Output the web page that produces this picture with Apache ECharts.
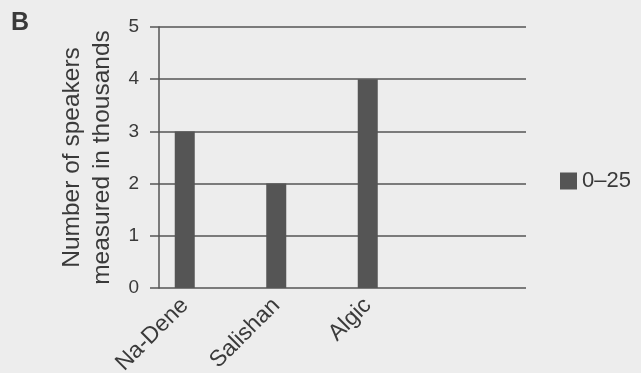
<!DOCTYPE html>
<html>
<head>
<meta charset="utf-8">
<script src="https://cdn.jsdelivr.net/npm/echarts@6/dist/echarts.min.js"></script>
<style>
  html, body { margin: 0; padding: 0; background: #ededed; }
  #chart { width: 641px; height: 373px; }
</style>
</head>
<body>
<div id="chart"></div>
<script>
// language families and speaker counts (thousands)
var families = ['Na-Dene', 'Salishan', 'Algic', '']
var speakers = [3, 2, 4, null]
var seriesName = '0\u201325'
var yTicks = [0, 1, 2, 3, 4, 5]

var textColor = '#3a3a3a'
var lineColor = '#555'
var font = 'Liberation Sans'

var myChart = echarts.init(document.getElementById('chart'))
var option = {
  backgroundColor: '#ededed',
  animation: false,
  textStyle: { fontFamily: font },
  graphic: [{
    type: 'text', left: 11, top: 11,
    style: { text: 'B', font: 'bold 25px ' + font, fill: textColor }
  }],
  legend: {
    data: [seriesName],
    orient: 'vertical',
    left: 555, top: 165,
    itemWidth: 17, itemHeight: 17,
    itemGap: 6,
    icon: 'rect',
    textStyle: { color: textColor, fontSize: 22, fontFamily: font }
  },
  grid: [
    // axis frame + gridlines
    { left: 159, right: 115, top: 27, bottom: 85, outerBoundsMode: 'none' },
    // bars, shifted so category centres sit under the bars
    { left: 139, right: 136, top: 27, bottom: 85, outerBoundsMode: 'none' }
  ],
  xAxis: [
    { gridIndex: 0, type: 'category', data: families, show: false },
    {
      gridIndex: 1, type: 'category', data: families,
      axisLine: { show: false }, axisTick: { show: false },
      axisLabel: { rotate: 45, color: textColor, fontSize: 23, margin: 14, interval: 0 }
    }
  ],
  yAxis: [
    {
      gridIndex: 0, type: 'value', min: yTicks[0], max: yTicks[yTicks.length - 1], interval: 1,
      name: 'Number of speakers\nmeasured in thousands',
      nameLocation: 'middle', nameGap: 39,
      nameTextStyle: { color: textColor, fontSize: 24.5, lineHeight: 30 },
      axisLine: { show: true, lineStyle: { color: lineColor, width: 1.5 } },
      axisTick: { show: true, length: 9, lineStyle: { color: lineColor, width: 1.5 } },
      axisLabel: { color: textColor, fontSize: 19, margin: 20 },
      splitLine: { lineStyle: { color: lineColor, width: 1.5 } }
    },
    { gridIndex: 1, type: 'value', min: 0, max: 5, show: false }
  ],
  series: [{
    name: seriesName,
    type: 'bar',
    xAxisIndex: 1, yAxisIndex: 1,
    barWidth: 20,
    itemStyle: { color: '#555555' },
    data: speakers
  }]
}
myChart.setOption(option)
</script>
</body>
</html>
